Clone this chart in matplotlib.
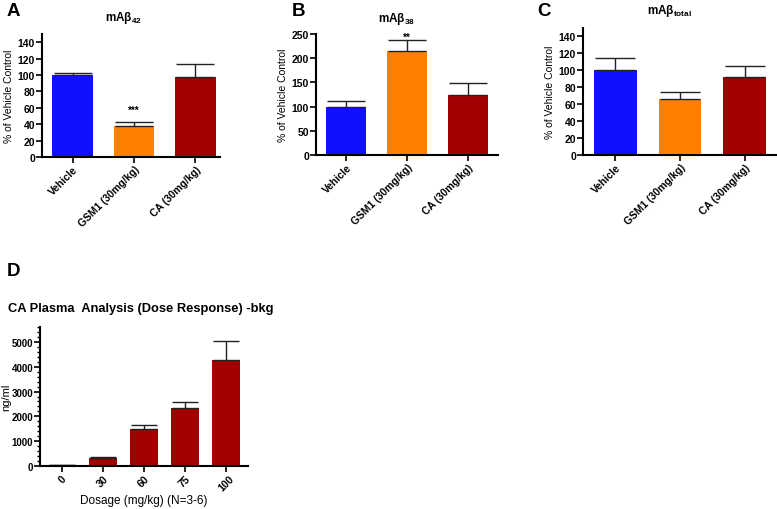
import numpy as np
import matplotlib
matplotlib.use('Agg')
import matplotlib.pyplot as plt
from matplotlib.ticker import MultipleLocator

plt.rcParams['font.family'] = ['Liberation Sans', 'DejaVu Sans']
plt.rcParams['font.weight'] = 'bold'
plt.rcParams['mathtext.fontset'] = 'custom'
plt.rcParams['mathtext.rm'] = 'Liberation Sans:bold'
plt.rcParams['mathtext.default'] = 'rm'

# data
groups = ['Vehicle', 'GSM1 (30mg/kg)', 'CA (30mg/kg)']
ab42 = [100, 38, 98]
ab42_err = [3, 5, 16]
ab38 = [100, 214, 125]
ab38_err = [12, 23, 23]
abtot = [100, 66, 92]
abtot_err = [14, 8, 13]

doses = ['0', '30', '60', '75', '100']
plasma = [30, 310, 1475, 2345, 4260]
plasma_err = [5, 45, 185, 240, 760]

colors = ['#1010ff', '#ff8000', '#a00000']
dark_red = '#a00000'

W, H = 777, 510
fig = plt.figure(figsize=(W / 100, H / 100), dpi=100)


def rect(l, t, r, b):
    return [l / W, 1 - b / H, (r - l) / W, (b - t) / H]


def style(ax):
    for s in ['top', 'right']:
        ax.spines[s].set_visible(False)
    for s in ['left', 'bottom']:
        ax.spines[s].set_linewidth(1.5)
    ax.tick_params(direction='out', length=4, width=1.2, labelsize=7.5, pad=1)


def bar_panel(ax, vals, errs, ymax, ystep, xmax, capsize):
    x = np.arange(len(vals))
    ax.bar(x, vals, width=0.66, color=colors)
    ax.errorbar(x, vals, yerr=[np.zeros(len(errs)), errs], fmt='none',
                ecolor='#222222', elinewidth=1, capsize=capsize, capthick=1)
    ax.set_ylim(0, ymax)
    ax.set_xlim(-0.5, xmax)
    ax.yaxis.set_major_locator(MultipleLocator(ystep))
    ax.set_xticks(x)
    ax.set_xticklabels(groups, rotation=45, ha='right', rotation_mode='anchor',
                       fontsize=10)
    ax.set_ylabel('% of Vehicle Control', fontsize=7.5, labelpad=3)
    style(ax)
    ax.set_yticks(np.arange(0, ymax, ystep))


# A
axA = fig.add_axes(rect(42, 35, 220, 158))
bar_panel(axA, ab42, ab42_err, 150, 20, 2.4, 13.5)
axA.annotate('***', (1, ab42[1] + ab42_err[1]), xytext=(0, 5),
             textcoords='offset points', ha='center', va='bottom', fontsize=7)

# B
axB = fig.add_axes(rect(316, 35, 498, 156))
bar_panel(axB, ab38, ab38_err, 250, 50, 2.5, 13.5)
axB.set_yticks(np.arange(0, 251, 50))
axB.annotate('**', (1, ab38[1] + ab38_err[1]), xytext=(0, -1),
             textcoords='offset points', ha='center', va='bottom', fontsize=7)

# C
axC = fig.add_axes(rect(583, 29, 779, 156))
bar_panel(axC, abtot, abtot_err, 150, 20, 2.53, 14.5)

# D
axD = fig.add_axes(rect(40, 328, 248, 467))
xd = np.arange(len(doses))
axD.bar(xd, plasma, width=0.68, color=dark_red)
axD.errorbar(xd, plasma, yerr=[np.zeros(len(plasma_err)), plasma_err], fmt='none',
             ecolor='#222222', elinewidth=1, capsize=9.5, capthick=1)
axD.set_ylim(0, 5600)
axD.set_xlim(-0.54, 4.54)
axD.yaxis.set_major_locator(MultipleLocator(1000))
axD.yaxis.set_minor_locator(MultipleLocator(200))
axD.set_yticks(np.arange(0, 5001, 1000))
axD.set_xticks(xd)
axD.set_xticklabels(doses, rotation=45, ha='center', fontsize=12.5)
style(axD)
axD.tick_params(axis='y', labelsize=7)
axD.tick_params(axis='y', which='minor', length=2.5, width=1)
axD.set_xlabel('Dosage (mg/kg) (N=3-6)', fontsize=8.5, labelpad=1)
axD.set_ylabel('ng/ml', fontsize=8)
axD.yaxis.set_label_coords(-29 / 208, 0.5)

# titles and panel letters
fig.text(124 / W, 1 - 10 / H, 'mAβ$_{42}$', ha='center', va='top', fontsize=8.5)
fig.text(397 / W, 1 - 11 / H, 'mAβ$_{38}$', ha='center', va='top', fontsize=8.5)
fig.text(670 / W, 1 - 3 / H, 'mAβ$_{total}$', ha='center', va='top', fontsize=8.5)
fig.text(8 / W, 1 - 303 / H, 'CA Plasma  Analysis (Dose Response) -bkg',
         ha='left', va='top', fontsize=9.3)

for letter, px, py in [('A', 7, 3), ('B', 292, 3), ('C', 537, 3), ('D', 7, 263)]:
    fig.text(px / W, 1 - py / H, letter, ha='left', va='top', fontsize=13.5,
             fontweight='bold')

fig.savefig('out.png', dpi=100)
